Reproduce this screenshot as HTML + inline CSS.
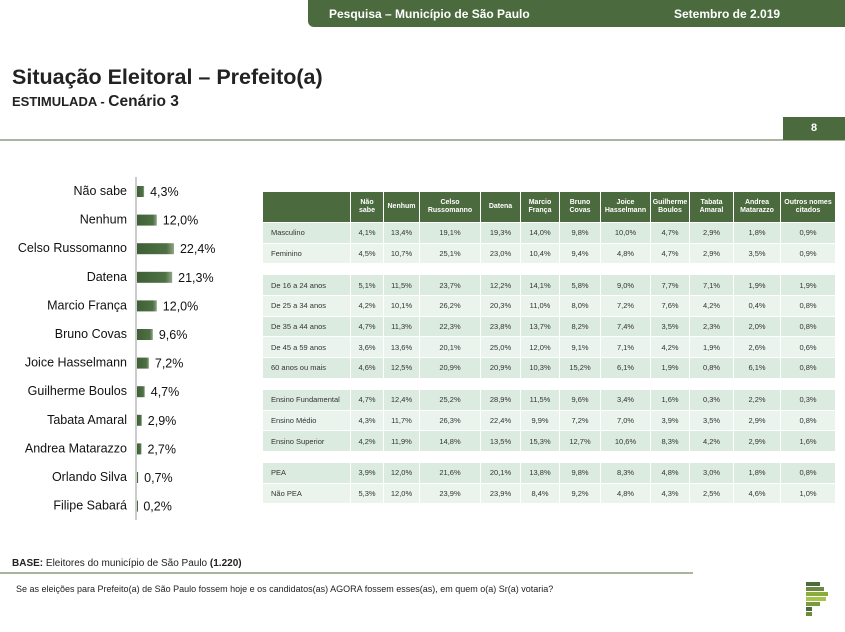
<!DOCTYPE html>
<html><head><meta charset="utf-8"><style>
body{margin:0;width:845px;height:632px;background:#fff;font-family:"Liberation Sans",sans-serif;position:relative;overflow:hidden}
.abs{position:absolute}
#hdr{left:308px;top:0;width:537px;height:27px;background:#4b6a3e;border-bottom-left-radius:6px;color:#fff;font-weight:bold;font-size:12px}
table{border-collapse:separate;border-spacing:1px;font-size:7.5px;color:#333;table-layout:fixed}
td{text-align:center;padding:0;height:19.7px;overflow:hidden;white-space:nowrap}
</style></head><body>
<div id="hdr" class="abs">
 <span class="abs" style="left:21px;top:7px">Pesquisa – Município de São Paulo</span>
 <span class="abs" style="left:366px;top:7px">Setembro de 2.019</span>
</div>
<div class="abs" style="left:12px;top:65px;font-size:21.5px;font-weight:bold;color:#222">Situação Eleitoral – Prefeito(a)</div>
<div class="abs" style="left:12px;top:93px;font-size:13px;font-weight:bold;color:#222">ESTIMULADA - <span style="font-size:15.5px">Cenário 3</span></div>
<div class="abs" style="left:0;top:139px;width:845px;height:2px;background:#a9b59e"></div>
<div class="abs" style="left:783px;top:117px;width:62px;height:23px;background:#4b6a3e;color:#fff;font-weight:bold;font-size:11px;text-align:center;line-height:23px">8</div>

<svg class="abs" style="left:0;top:170px" width="250" height="360" id="chart">
 <defs><linearGradient id="g" x1="0" x2="1"><stop offset="0" stop-color="#3f5f35"/><stop offset="0.8" stop-color="#4f7044"/><stop offset="1" stop-color="#8ea585"/></linearGradient></defs>
</svg>

<div class="abs" style="left:262px;top:191px" id="tw"></div>

<div class="abs" style="left:12px;top:558px;font-size:10px;color:#222"><b>BASE:</b> Eleitores do município de São Paulo <b>(1.220)</b></div>
<div class="abs" style="left:0;top:572px;width:693px;height:2px;background:#a9b59e"></div>
<div class="abs" style="left:16px;top:584px;font-size:9px;color:#222">Se as eleições para Prefeito(a) de São Paulo fossem hoje e os candidatos(as) AGORA fossem esses(as), em quem o(a) Sr(a) votaria?</div>
<svg class="abs" style="left:806px;top:582px" width="26" height="36">
 <rect x="0" y="0" width="14" height="4" fill="#4b6a3e"/><rect x="0" y="5" width="18" height="4" fill="#6b8a3e"/><rect x="0" y="10" width="22" height="4" fill="#8aab3e"/><rect x="0" y="15" width="20" height="4" fill="#a7c44a"/><rect x="0" y="20" width="14" height="4" fill="#7a9a3e"/><rect x="0" y="25" width="6" height="4" fill="#4b6a3e"/><rect x="0" y="30" width="6" height="4" fill="#6b8a3e"/>
</svg>

<script>
const candidates=["Não sabe","Nenhum","Celso Russomanno","Datena","Marcio França","Bruno Covas","Joice Hasselmann","Guilherme Boulos","Tabata Amaral","Andrea Matarazzo","Orlando Silva","Filipe Sabará"];
const shares=[4.3,12.0,22.4,21.3,12.0,9.6,7.2,4.7,2.9,2.7,0.7,0.2];
const ns="http://www.w3.org/2000/svg";
const svg=document.getElementById('chart');
const x0=136,pxPer=1.65,y0=21,step=28.6;
const xs=v=>x0+v*pxPer, ys=i=>y0+i*step;
const ax=document.createElementNS(ns,'line');
ax.setAttribute('x1',x0);ax.setAttribute('x2',x0);ax.setAttribute('y1',7);ax.setAttribute('y2',350);ax.setAttribute('stroke','#999');


svg.appendChild(ax);
candidates.forEach((c,i)=>{
 const y=ys(i);
 const t=document.createElementNS(ns,'text');
 t.setAttribute('x',127);t.setAttribute('y',y+4);t.setAttribute('text-anchor','end');t.setAttribute('font-size','12.5');t.setAttribute('fill','#111');t.textContent=c;
 
 
 svg.appendChild(t);
 const r=document.createElementNS(ns,'rect');
 r.setAttribute('x',x0+1);r.setAttribute('y',y-5);r.setAttribute('width',Math.max(1,xs(shares[i])-x0));r.setAttribute('height',11);r.setAttribute('fill','url(#g)');
 
 
 svg.appendChild(r);
 const v=document.createElementNS(ns,'text');
 v.setAttribute('x',xs(shares[i])+7);v.setAttribute('y',y+5);v.setAttribute('font-size','12.5');v.setAttribute('fill','#111');v.textContent=shares[i].toFixed(1).replace('.',',')+'%';
 
 
 svg.appendChild(v);
});

const cols=["Não<br>sabe","Nenhum","Celso<br>Russomanno","Datena","Marcio<br>França","Bruno<br>Covas","Joice<br>Hasselmann","Guilherme<br>Boulos","Tabata<br>Amaral","Andrea<br>Matarazzo","Outros nomes<br>citados"];
const widths=[88,33,36,61,40,39,41,50,39,44,47,55];
const groups=[
 [["Masculino","4,1 13,4 19,1 19,3 14,0 9,8 10,0 4,7 2,9 1,8 0,9"],["Feminino","4,5 10,7 25,1 23,0 10,4 9,4 4,8 4,7 2,9 3,5 0,9"]],
 [["De 16 a 24 anos","5,1 11,5 23,7 12,2 14,1 5,8 9,0 7,7 7,1 1,9 1,9"],["De 25 a 34 anos","4,2 10,1 26,2 20,3 11,0 8,0 7,2 7,6 4,2 0,4 0,8"],["De 35 a 44 anos","4,7 11,3 22,3 23,8 13,7 8,2 7,4 3,5 2,3 2,0 0,8"],["De 45 a 59 anos","3,6 13,6 20,1 25,0 12,0 9,1 7,1 4,2 1,9 2,6 0,6"],["60 anos ou mais","4,6 12,5 20,9 20,9 10,3 15,2 6,1 1,9 0,8 6,1 0,8"]],
 [["Ensino Fundamental","4,7 12,4 25,2 28,9 11,5 9,6 3,4 1,6 0,3 2,2 0,3"],["Ensino Médio","4,3 11,7 26,3 22,4 9,9 7,2 7,0 3,9 3,5 2,9 0,8"],["Ensino Superior","4,2 11,9 14,8 13,5 15,3 12,7 10,6 8,3 4,2 2,9 1,6"]],
 [[" PEA","3,9 12,0 21,6 20,1 13,8 9,8 8,3 4,8 3,0 1,8 0,8"],[" Não PEA","5,3 12,0 23,9 23,9 8,4 9,2 4,8 4,3 2,5 4,6 1,0"]]
];
const total=widths.reduce((a,b)=>a+b,0);
let h=`<table style="width:${total}px"><colgroup>`;
widths.forEach(w=>h+=`<col style="width:${w-1}px">`);
h+='</colgroup><tr style="background:#4b6a3e;color:#fff;font-weight:bold;height:30px">';
widths.forEach((w,i)=>{h+=`<td style="height:30px;font-size:7px;line-height:8px">${i?cols[i-1]:''}</td>`});
h+='</tr>';
groups.forEach((g,gi)=>{
 if(gi)h+='<tr><td colspan="12" style="height:10px"></td></tr>';
 g.forEach((r,ri)=>{
  const bg=ri%2?'#eaf4ec':'#dcebe0';
  h+=`<tr style="background:${bg}"><td style="text-align:left;padding-left:8px">${r[0]}</td>`;
  r[1].split(' ').forEach(v=>h+=`<td>${v}%</td>`);
  h+='</tr>';
 });
});
h+='</table>';
document.getElementById('tw').innerHTML=h;
</script>
</body></html>
